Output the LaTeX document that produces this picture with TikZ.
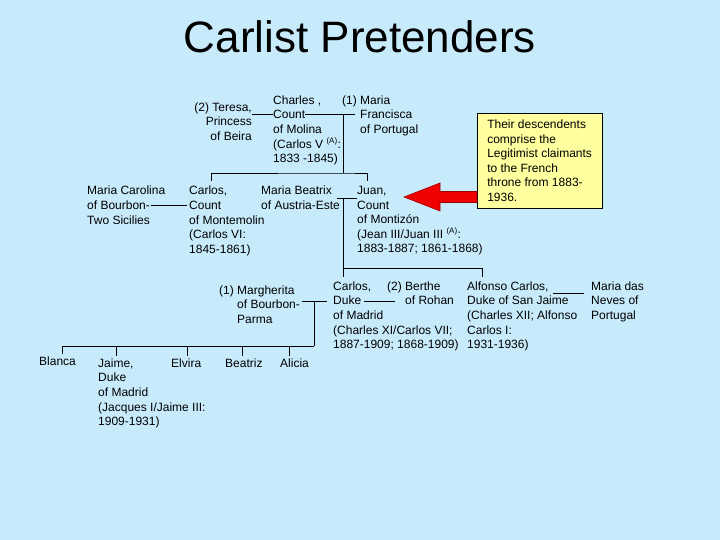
\documentclass[tikz,border=0pt]{standalone}
\usepackage{fontspec}
\setmainfont{Liberation Sans}
\usetikzlibrary{calc}
\definecolor{skyback}{RGB}{200,235,252}
\definecolor{notefill}{RGB}{255,255,160}
\definecolor{arrowred}{RGB}{240,0,0}

\begin{document}
\begin{tikzpicture}[x=1pt, y=-1pt,
    person/.style={anchor=north west, inner sep=0pt, align=left, font=\fontsize{12}{14.6}\selectfont},
    note/.style={draw, line width=0.6pt, fill=notefill, anchor=north west, align=left, inner xsep=10pt, inner ysep=6pt, minimum width=124pt, minimum height=95pt, font=\fontsize{12}{14.6}\selectfont},
    link/.style={line width=0.8pt},
    redarrow/.style={fill=arrowred, draw=red!60!black, line width=0.6pt}
  ]
    \fill[skyback] (0,0) rectangle (720,540);
    \useasboundingbox (0,0) rectangle (720,540);

    \node[anchor=base, font=\fontsize{44}{50}\selectfont] (title) at (360,53) {Carlist Pretenders};

    % first generation
    \node[person, anchor=north east, align=right] (teresa) at (252,102.5) {(2) Teresa,\\Princess\\of Beira};
    \node[person] (charles) at (273,95.5) {Charles ,\\Count\\of Molina\\(Carlos V \textsuperscript{(A)}:\\1833 -1845)};
    \node[person] (maria) at (342,95.5) {(1) Maria\\\phantom{(1) }Francisca\\\phantom{(1) }of Portugal};

    % second generation
    \node[person] (carolina) at (87,186) {Maria Carolina\\of Bourbon-\\Two Sicilies};
    \node[person] (montemolin) at (189,186) {Carlos,\\Count\\of Montemolin\\(Carlos VI:\\1845-1861)};
    \node[person] (beatrix) at (261,186) {Maria Beatrix\\of Austria-Este};
    \node[person] (juan) at (357,186) {Juan,\\Count\\of Montizón\\(Jean III/Juan III \textsuperscript{(A)}:\\1883-1887; 1861-1868)};

    % third generation
    \node[person] (margherita) at (219,285.5) {(1) Margherita\\\phantom{(1) }of Bourbon-\\\phantom{(1) }Parma};
    \node[person] (madrid) at (333,281.5) {Carlos,\\Duke\\of Madrid\\(Charles XI/Carlos VII;\\1887-1909; 1868-1909)};
    \node[person] (berthe) at (387,281.5) {(2) Berthe\\\phantom{(2) }of Rohan};
    \node[person] (sanjaime) at (467,281.5) {Alfonso Carlos,\\Duke of San Jaime\\(Charles XII; Alfonso\\Carlos I:\\1931-1936)};
    \node[person] (neves) at (591,281.5) {Maria das\\Neves of\\Portugal};

    % fourth generation
    \node[person] (blanca) at (39,357) {Blanca};
    \node[person] (jaime) at (98,358.5) {Jaime,\\Duke\\of Madrid\\(Jacques I/Jaime III:\\1909-1931)};
    \node[person] (elvira) at (171,358.5) {Elvira};
    \node[person] (beatriz) at (225,358.5) {Beatriz};
    \node[person] (alicia) at (280,358.5) {Alicia};

    \node[note] (note) at (477,113) {Their descendents\\comprise the\\Legitimist claimants\\to the French\\throne from 1883-\\1936.};

    % marriages and descent
    \coordinate (wed1) at (343,114);
    \coordinate (sons1) at (343,173);
    \draw[link] (teresa.east |- wed1) -- (charles.west |- wed1);
    \draw[link] ($(charles.west |- wed1)+(32,0)$) -- ($(maria.west |- wed1)+(13,0)$);
    \draw[link] (wed1) -- (sons1);
    \draw[link] ([xshift=22pt,yshift=5pt]montemolin.north west) |- (sons1) -| ([xshift=10pt,yshift=5pt]juan.north west);
    \draw[link] ($(carolina.west |- 0,205)+(64,0)$) -- ([xshift=-2pt]montemolin.west |- 0,205);

    \coordinate (wed2) at (343,198);
    \coordinate (sons2) at (343,268);
    \draw[link] ([xshift=-3pt]beatrix.east |- wed2) -- (juan.west |- wed2);
    \draw[link] (wed2) -- ([xshift=10pt,yshift=5pt]madrid.north west);
    \draw[link] (sons2) -| ([xshift=15pt,yshift=5pt]sanjaime.north west);

    \coordinate (wed3) at (314,301);
    \coordinate (sons3) at (314,346);
    \draw[link] ([xshift=2pt]margherita.east |- wed3) -- ([xshift=-6pt]madrid.west |- wed3);
    \draw[link] ($(madrid.west |- wed3)+(31,0)$) -- ($(berthe.west |- wed3)+(8,0)$);
    \draw[link] (wed3) -- (sons3);
    \foreach \kid/\dx in {blanca/23, jaime/18, elvira/16, beatriz/17, alicia/9}
      \draw[link] ([xshift=\dx pt,yshift=3pt]\kid.north west) |- (sons3);

    \draw[link] ($(sanjaime.west |- 0,293)+(86,0)$) -- ([xshift=-7pt]neves.west |- 0,293);

    % pointer from the note
    \coordinate (tip) at (404,197);
    \filldraw[redarrow] (tip) -- ++(36,-14) -- ++(0,8.5) -- ($(note.west |- tip)+(0,-5.5)$)
      -- ($(note.west |- tip)+(0,5.5)$) -- ($(tip)+(36,5.5)$) -- ++(0,8.5) -- cycle;
  \end{tikzpicture}
\end{document}
